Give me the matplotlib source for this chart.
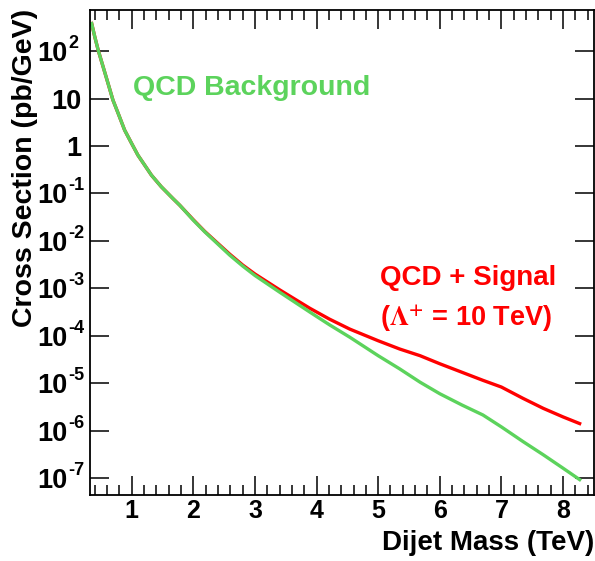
import numpy as np
import matplotlib
matplotlib.use("Agg")
import matplotlib.pyplot as plt
from matplotlib.ticker import MultipleLocator, LogLocator, FixedLocator, NullFormatter

plt.rcParams['font.family'] = ['Liberation Sans', 'DejaVu Sans']
plt.rcParams['font.weight'] = 'bold'
plt.rcParams['mathtext.fontset'] = 'custom'
plt.rcParams['mathtext.rm'] = 'Liberation Sans:bold'
plt.rcParams['mathtext.bf'] = 'Liberation Sans:bold'
plt.rcParams['mathtext.it'] = 'Liberation Sans:bold'

# Dijet mass (TeV) and cross sections (pb/GeV)
mass_qcd = [0.35, 0.40, 0.455, 0.535, 0.615, 0.695, 0.78, 0.885, 1.0, 1.10, 1.21,
            1.32, 1.48, 1.67, 1.78, 2.0, 2.185, 2.4, 2.59, 2.8, 3.0, 3.40, 3.89,
            4.21, 4.54, 5.0, 5.35, 5.68, 6.0, 6.36, 6.70, 7.0, 7.35, 7.68, 8.0, 8.27]
xsec_qcd = [380, 200, 105, 46.8, 20.9, 9.25, 4.85, 2.15, 1.12, 0.64, 0.394,
            0.242, 0.138, 0.0776, 0.0562, 0.0272, 0.0155, 8.5e-3, 5.0e-3, 2.95e-3,
            1.86e-3, 8.3e-4, 3.16e-4, 1.7e-4, 9.3e-5, 3.8e-5, 2.0e-5, 1.05e-5,
            6.0e-6, 3.47e-6, 2.14e-6, 1.2e-6, 5.9e-7, 3.1e-7, 1.62e-7, 9.3e-8]

mass_sig = [0.35, 0.40, 0.455, 0.535, 0.615, 0.695, 0.78, 0.885, 1.0, 1.10, 1.21,
            1.32, 1.48, 1.67, 1.78, 2.0, 2.185, 2.4, 2.59, 2.8, 3.0, 3.40, 3.89,
            4.21, 4.54, 5.0, 5.35, 5.68, 6.0, 6.36, 6.70, 7.0, 7.35, 7.68, 8.0, 8.27]
xsec_sig = [380, 200, 105, 46.8, 20.9, 9.25, 4.85, 2.15, 1.12, 0.64, 0.394,
            0.242, 0.138, 0.0776, 0.0562, 0.0278, 0.0158, 8.8e-3, 5.25e-3, 3.1e-3,
            2.0e-3, 9.3e-4, 3.8e-4, 2.24e-4, 1.38e-4, 7.85e-5, 5.25e-5, 3.8e-5,
            2.57e-5, 1.7e-5, 1.15e-5, 8.3e-6, 4.8e-6, 2.95e-6, 1.95e-6, 1.41e-6]

# y tick labels in ROOT style: base + small raised exponent
ytick_vals = [1e-7, 1e-6, 1e-5, 1e-4, 1e-3, 1e-2, 1e-1, 1, 10, 1e2]
ytick_base = ['10', '10', '10', '10', '10', '10', '10', '1', '10', '10']
ytick_sup = ['-7', '-6', '-5', '-4', '-3', '-2', '-1', '', '', '2']

green = '#5cd35c'
red = '#ff0000'

fig = plt.figure(figsize=(5.95, 5.61), dpi=100)
ax = fig.add_axes([0.151, 0.1176, 0.847, 0.8654])

ax.plot(mass_sig, xsec_sig, color=red, lw=2.4, solid_joinstyle='round')
ax.plot(mass_qcd, xsec_qcd, color=green, lw=2.4, solid_joinstyle='round')

ax.set_yscale('log')
ax.set_xlim(0.32, 8.5)
ax.set_ylim(4.4e-8, 750)

ax.xaxis.set_major_locator(MultipleLocator(1))
ax.xaxis.set_minor_locator(MultipleLocator(0.2))
ax.yaxis.set_major_locator(FixedLocator(ytick_vals))
ax.yaxis.set_major_formatter(NullFormatter())
ax.yaxis.set_minor_locator(LogLocator(base=10, subs=np.arange(2, 10)))
ax.yaxis.set_minor_formatter(NullFormatter())

ax.tick_params(which='both', direction='in', top=True, right=True, width=1.1)
ax.tick_params(which='major', length=14)
ax.tick_params(which='minor', length=7)
ax.tick_params(axis='x', which='major', labelsize=18, pad=3)
for lab in ax.get_xticklabels():
    lab.set_fontweight('bold')
for sp in ax.spines.values():
    sp.set_linewidth(1.3)

# y tick labels drawn by hand (px -> pt: 0.72)
ytr = ax.get_yaxis_transform()
for val, base, sup in zip(ytick_vals, ytick_base, ytick_sup):
    if sup:
        ax.annotate(base, xy=(0, val), xycoords=ytr, xytext=(-15.8, -7.2),
                    textcoords='offset points', ha='right', va='baseline',
                    fontsize=19.5, fontweight='bold', annotation_clip=False)
        ax.annotate(sup, xy=(0, val), xycoords=ytr, xytext=(-15.8, 2.2),
                    textcoords='offset points', ha='left', va='baseline',
                    fontsize=13, fontweight='bold', annotation_clip=False)
    else:
        ax.annotate(base, xy=(0, val), xycoords=ytr, xytext=(-5.8, -7.2),
                    textcoords='offset points', ha='right', va='baseline',
                    fontsize=19.5, fontweight='bold', annotation_clip=False)

ax.set_ylabel('Cross Section (pb/GeV)', fontsize=20.5, fontweight='bold')
ax.yaxis.set_label_coords(-0.103, 0.673)
ax.set_xlabel('Dijet Mass (TeV)', fontsize=20, fontweight='bold', ha='right')
ax.xaxis.set_label_coords(1.0, -0.072)

ax.text(0.085, 0.838, 'QCD Background', transform=ax.transAxes, color=green,
        fontsize=20.5, fontweight='bold', va='center', ha='left')
ax.text(0.575, 0.448, 'QCD + Signal', transform=ax.transAxes, color=red,
        fontsize=20, fontweight='bold', va='center', ha='left')
ax.text(0.575, 0.365, r'($\Lambda^{\mathbf{+}}$ = 10 TeV)', transform=ax.transAxes,
        color=red, fontsize=19.5, fontweight='bold', va='center', ha='left',
        math_fontfamily='stix')

fig.savefig('out.png', dpi=100)
